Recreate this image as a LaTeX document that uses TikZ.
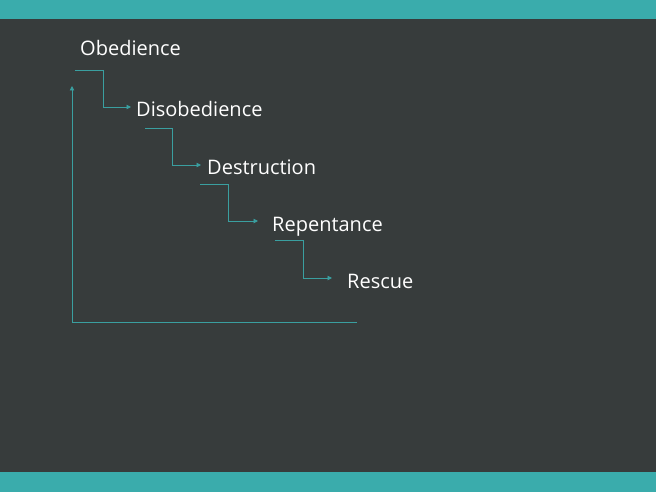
\documentclass[tikz,border=0pt]{standalone}
\usepackage{fontspec}
\setmainfont{Open Sans}
\usetikzlibrary{arrows.meta}

\definecolor{slate}{HTML}{373C3C}
\definecolor{teal}{HTML}{3AACAC}
\definecolor{tealline}{HTML}{3A9FA0}

\tikzset{
  step label/.style={anchor=west, inner sep=0pt, text=white, font=\fontsize{20}{24}\selectfont, text height=20pt, text depth=0pt},
  link/.style={draw=tealline, line width=0.9pt, -{Triangle[length=4.5pt,width=4.5pt]}},
}

\begin{document}
\begin{tikzpicture}[x=1pt, y=-1pt]
            \fill[slate] (0,0) rectangle (656,492);
            \fill[teal] (0,0) rectangle (656,19);
            \fill[teal] (0,472) rectangle (656,492);
            \useasboundingbox (0,0) rectangle (656,492);

            \node[step label] (obed) at (80, 46) {Obedience};
            \node[step label] (disob) at (136, 107) {Disobedience};
            \node[step label] (destr) at (207, 165) {Destruction};
            \node[step label] (repent) at (272, 221) {Repentance};
            \node[step label] (rescue) at (347, 278) {Rescue};

            \coordinate (s1) at (75, 70);
            \coordinate (s2) at (145, 128);
            \coordinate (s3) at (200, 184);
            \coordinate (s4) at (275, 240);

            \draw[link, shorten >=5pt] (s1) -- ++(28,0) |- (disob.west);
            \draw[link, shorten >=6pt] (s2) -- ++(27,0) |- (destr.west);
            \draw[link, shorten >=14pt] (s3) -- ++(28,0) |- (repent.west);
            \draw[link, shorten >=15pt] (s4) -- ++(28,0) |- (rescue.west);

            % axes
            \coordinate (origin) at (72, 322);
            \coordinate (xend) at (357, 322);
            \coordinate (ytop) at (72, 86);
            \draw[link] (xend) -- (origin) -- (ytop);
\end{tikzpicture}
\end{document}
